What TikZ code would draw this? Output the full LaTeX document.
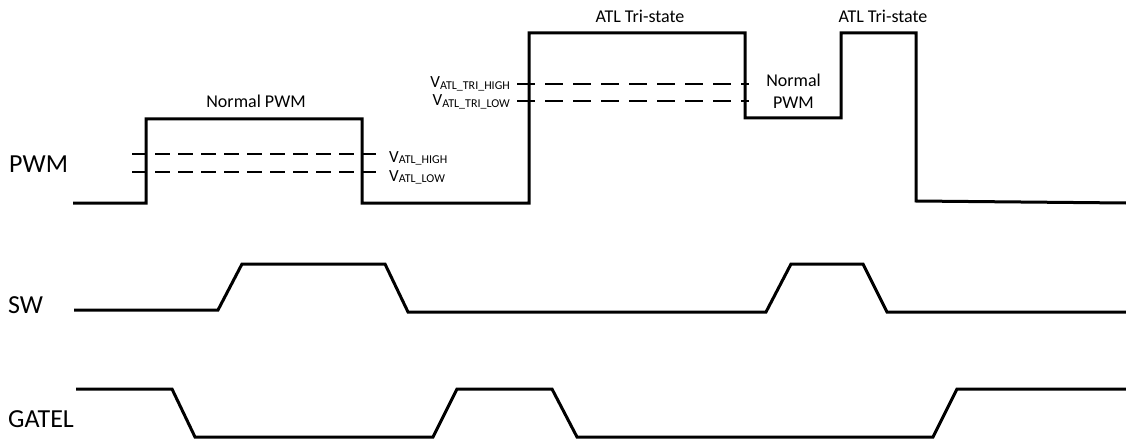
\documentclass[tikz,border=0pt]{standalone}
\usepackage{fontspec}
\setmainfont{Carlito}
\usetikzlibrary{positioning}

% threshold label: big V with a lowered small subscript
\newcommand{\vth}[1]{{\fontsize{17}{20}\selectfont V}\raisebox{-1.5pt}{\fontsize{12}{14}\selectfont #1}}

\begin{document}
\begin{tikzpicture}[x=1pt, y=-1pt,
  wave/.style={line width=3pt, line join=miter, black},
  thr/.style={line width=1.6pt, black, dash pattern=on 15pt off 8pt},
  trithr/.style={thr, dash pattern=on 18pt off 10pt},
  siglab/.style={inner sep=0pt, font=\fontsize{26}{30}\selectfont},
  txt/.style={inner sep=0pt, font=\fontsize{18}{22}\selectfont, align=center}
]
  \useasboundingbox (0,0) rectangle (1126,441);

  % signal names
  \node[siglab, anchor=base west] (pwm)   at (9,172)  {PWM};
  \node[siglab, anchor=base west] (sw)    at (8,313)  {SW};
  \node[siglab, anchor=base west] (gatel) at (8,427)  {GATEL};

  % threshold lines
  \draw[thr] (132,154) -- (376,154);
  \draw[thr] (132,172) -- (376,172);
  \draw[trithr] (517,84)  -- (749,84);
  \draw[trithr] (517,101) -- (749,101);

  % PWM
  \draw[wave] (73,203) -- (146,203) -- (146,119) -- (362,119) -- (362,203)
    -- (529,203) -- (529,33) -- (745,33) -- (745,118) -- (841,118)
    -- (841,33) -- (916,33) -- (916,201) -- (1126,203);

  % SW
  \draw[wave] (74,310) -- (218,310) -- (242,264) -- (385,264) -- (408,312)
    -- (766,312) -- (791,264) -- (863,264) -- (887,312) -- (1126,312);

  % GATEL
  \draw[wave] (76,389) -- (172,389) -- (195,437) -- (433,437) -- (457,389)
    -- (552,389) -- (577,437) -- (933,437) -- (957,389) -- (1126,389);

  % region labels
  \node[txt, anchor=base] (npwm1) at (256,107) {Normal PWM};
  \node[txt, anchor=base] (tri1)  at (640,23)  {ATL Tri-state};
  \node[txt, anchor=base] (tri2)  at (883,23)  {ATL Tri-state};
  \node[txt, anchor=base] (norm2) at (793.5,87)  {Normal};
  \node[txt, anchor=base] (npwm2) at (793.5,109) {PWM};

  % threshold labels
  \node[inner sep=0pt, anchor=base west] (vhigh) at (389,162) {\vth{ATL\_HIGH}};
  \node[inner sep=0pt, anchor=base west] (vlow)  at (389,181) {\vth{ATL\_LOW}};
  \node[inner sep=0pt, anchor=base east] (vtrih) at (510,88)  {\vth{ATL\_TRI\_HIGH}};
  \node[inner sep=0pt, anchor=base east] (vtril) at (510,106) {\vth{ATL\_TRI\_LOW}};
\end{tikzpicture}
\end{document}
